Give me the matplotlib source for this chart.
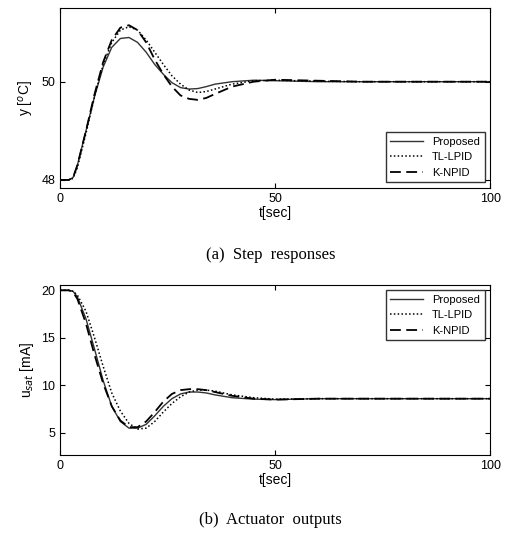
import matplotlib
matplotlib.use("Agg")
import matplotlib.pyplot as plt

t1 = [0,2,3,4,6,8,10,12,14,16,18,20,22,24,26,28,30,32,34,36,40,45,50,60,70,80,100]
y_prop = [48,48,48.05,48.3,49.0,49.7,50.3,50.7,50.88,50.9,50.8,50.6,50.35,50.15,49.98,49.88,49.85,49.86,49.9,49.95,50.0,50.03,50.02,50.0,50,50,50]
y_tl = [48,48,48.03,48.25,48.95,49.7,50.35,50.8,51.05,51.12,51.05,50.85,50.6,50.35,50.12,49.95,49.83,49.78,49.8,49.85,49.95,50.02,50.03,50.01,50,50,50]
y_kn = [48,48,48.05,48.3,49.0,49.75,50.4,50.85,51.1,51.15,51.05,50.8,50.45,50.15,49.9,49.72,49.65,49.63,49.67,49.75,49.9,50.0,50.04,50.02,50,50,50]

t2 = [0,2,3,4,6,8,10,12,14,16,18,20,22,24,26,28,30,32,34,36,40,45,50,60,100]
u_prop = [20,20,19.9,19.3,17,13.8,10.5,7.8,6.2,5.5,5.5,5.9,6.8,7.8,8.6,9.1,9.3,9.3,9.2,9.0,8.7,8.55,8.5,8.6,8.6]
u_tl = [20,20,19.9,19.5,17.8,15,12,9.2,7.3,6.0,5.4,5.5,6.2,7.2,8.1,8.8,9.3,9.5,9.5,9.4,9.0,8.7,8.55,8.6,8.6]
u_kn = [20,20,19.8,19.1,16.5,13.2,10.2,7.8,6.3,5.6,5.6,6.2,7.2,8.3,9.1,9.5,9.6,9.6,9.5,9.3,8.9,8.6,8.5,8.6,8.6]

labels = ["Proposed", "TL-LPID", "K-NPID"]
styles = [dict(color="#333333", lw=1.0, ls="-"),
          dict(color="black", lw=1.1, ls=(0, (1, 1.5))),
          dict(color="black", lw=1.3, ls=(0, (6, 3)))]

plt.rcParams['font.family'] = ['Liberation Sans', 'DejaVu Sans']
fig = plt.figure(figsize=(5.1, 5.35), dpi=100)
ax1 = fig.add_axes([0.118, 0.649, 0.843, 0.336])
ax2 = fig.add_axes([0.118, 0.150, 0.843, 0.318])

for y, lab, st in zip([y_prop, y_tl, y_kn], labels, styles):
    ax1.plot(t1, y, label=lab, **st)
for u, lab, st in zip([u_prop, u_tl, u_kn], labels, styles):
    ax2.plot(t2, u, label=lab, **st)

ax1.set_xlim(0, 100); ax1.set_ylim(47.84, 51.5)
ax1.set_xticks([0, 50, 100]); ax1.set_yticks([48, 50])
ax1.set_ylabel("y [$^{o}$C]", fontsize=10)
ax1.set_xlabel("t[sec]", fontsize=10, labelpad=1)
ax1.legend(loc="lower right", fontsize=8, frameon=True, fancybox=False,
           edgecolor="black", handlelength=3)

ax2.set_xlim(0, 100); ax2.set_ylim(2.7, 20.6)
ax2.set_xticks([0, 50, 100]); ax2.set_yticks([5, 10, 15, 20])
ax2.set_ylabel("u$_{sat}$ [mA]", fontsize=10)
ax2.set_xlabel("t[sec]", fontsize=10, labelpad=1)
ax2.legend(loc="upper right", fontsize=8, frameon=True, fancybox=False,
           edgecolor="black", handlelength=3)

for ax in (ax1, ax2):
    ax.tick_params(direction="in", labelsize=9, top=True, right=True)

fig.text(0.53, 0.515, "(a)  Step  responses", ha="center", fontsize=12, family="Liberation Serif")
fig.text(0.53, 0.02, "(b)  Actuator  outputs", ha="center", fontsize=12, family="Liberation Serif")

fig.savefig("out.png", dpi=100)
